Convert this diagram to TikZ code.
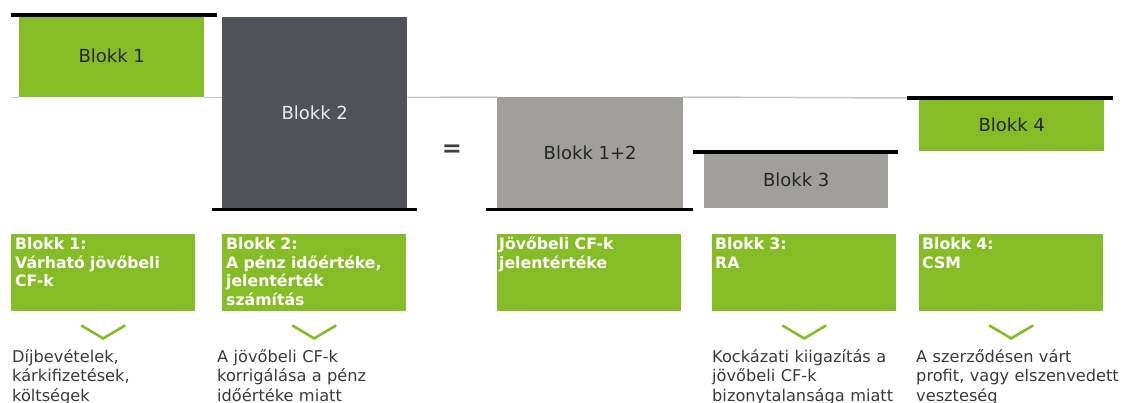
\documentclass[tikz,border=0pt]{standalone}
\usepackage{fontspec}
\setmainfont{DejaVu Sans}
\usetikzlibrary{calc}
\definecolor{dgreen}{HTML}{86BC25}
\definecolor{dgray}{HTML}{505257}
\definecolor{lgray}{HTML}{A09F9B}
\definecolor{txt}{HTML}{3A3A3A}
\definecolor{basec}{HTML}{C8C8C8}
\begin{document}
\begin{tikzpicture}[x=1pt,y=-1pt,
  bar/.style={line width=3.2pt,black},
  baseln/.style={line width=1.5pt,basec},
  topblk/.style={anchor=north west,inner sep=0pt,minimum width=#1,font=\fontsize{18}{21}\selectfont},
  gbox/.style={anchor=north west,inner sep=0pt,fill=dgreen,minimum width=184pt,minimum height=77pt},
  gtext/.style={anchor=base west,inner sep=0pt,text width=180pt,align=left,text=white,font=\fontsize{15.7}{18.6}\selectfont\bfseries},
  desc/.style={anchor=base west,inner sep=0pt,text width=205pt,align=left,text=txt,font=\fontsize{16.2}{19.5}\selectfont},
  chev/.style={line width=2.6pt,dgreen,line cap=butt,line join=miter}]
\useasboundingbox (0,0) rectangle (1121,403);

% top blocks
\node[topblk=185pt,minimum height=82pt,fill=dgreen,text=black!85] (b1) at (19,15) {Blokk 1};
\node[topblk=185pt,minimum height=191pt,fill=dgray,text=white!92!black] (b2) at (222,17) {Blokk 2};
\node[topblk=186pt,minimum height=111pt,fill=lgray,text=black!85] (b12) at (497,97) {Blokk 1+2};
\node[topblk=184pt,minimum height=56pt,fill=lgray,text=black!85] (b3) at (704,152) {Blokk 3};
\node[topblk=185pt,minimum height=53pt,fill=dgreen,text=black!85] (b4) at (919,98) {Blokk 4};
\node[font=\fontsize{24}{28}\selectfont\bfseries,text=black!75] (eq) at (452,151) {=};

% base line
\draw[baseln] ($(b1.south west)+(-8,0)$) -- (b1.south west);
\draw[baseln] (b1.south east) -- (b2.west |- b1.south);
\draw[baseln] (b2.east |- b1.south) -- (b12.north west);
\draw[baseln] (b12.north east) -- ($(b4.north west)+(-12,0)$);

% black bars
\draw[bar] ($(b1.north west)+(-8,0)$) -- ($(b1.north east)+(13,0)$);
\draw[bar] ($(b2.south west)+(-10,1)$) -- ($(b2.south east)+(10,1)$);
\draw[bar] ($(b12.south west)+(-11,1)$) -- ($(b12.south east)+(10,1)$);
\draw[bar] ($(b3.north west)+(-11,0)$) -- ($(b3.north east)+(10,0)$);
\draw[bar] ($(b4.north west)+(-12,0)$) -- ($(b4.north east)+(9,0)$);

% lower green boxes
\node[gbox] (c1) at (11,234) {};
\node[gbox] (c2) at (222,234) {};
\node[gbox] (c3) at (497,234) {};
\node[gbox] (c4) at (712,234) {};
\node[gbox] (c5) at (919,234) {};

\node[gtext] (t1) at ($(c1.north west)+(4,15.5)$) {Blokk 1:\\Várható jövőbeli\\CF-k};
\node[gtext] (t2) at ($(c2.north west)+(4,15.5)$) {Blokk 2:\\A pénz időértéke,\\jelentérték\\számítás};
\node[gtext] (t3) at ($(c3.north west)+(2,15.5)$) {Jövőbeli CF-k\\jelentértéke};
\node[gtext] (t4) at ($(c4.north west)+(3,15.5)$) {Blokk 3:\\RA};
\node[gtext] (t5) at ($(c5.north west)+(3,15.5)$) {Blokk 4:\\CSM};

% chevrons
\foreach \c in {c1,c2,c4,c5}{
  \draw[chev] ($(\c.south)+(-22,14)$) -- ($(\c.south)+(0,27)$) -- ($(\c.south)+(22,14)$);
}

% descriptions
\node[desc] (d1) at (12,362) {Díjbevételek,\\kárkifizetések,\\költségek};
\node[desc] (d2) at (217,362) {A jövőbeli CF-k\\korrigálása a pénz\\időértéke miatt};
\node[desc] (d4) at (712,362) {Kockázati kiigazítás a\\jövőbeli CF-k\\bizonytalansága miatt};
\node[desc] (d5) at (916,362) {A szerződésen várt\\profit, vagy elszenvedett\\veszteség};
\end{tikzpicture}
\end{document}
